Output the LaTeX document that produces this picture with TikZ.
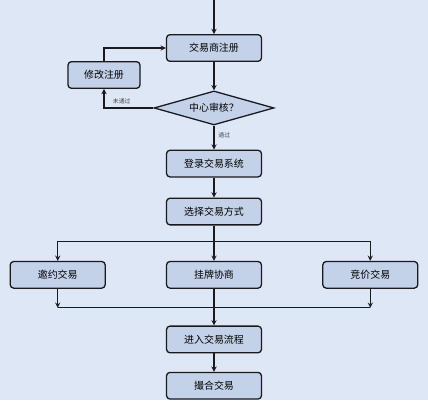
\documentclass[tikz,border=0pt]{standalone}
\usepackage{fontspec}
\newfontfamily\cjk{Noto Sans CJK SC}
\usetikzlibrary{arrows, shapes.geometric}
\usetikzlibrary{positioning, calc}

\definecolor{bgblue}{RGB}{222,231,246}
\definecolor{boxblue}{RGB}{196,210,233}
\definecolor{lineblack}{RGB}{25,25,30}

\tikzset{
	box/.style={rectangle, rounded corners=3pt, draw=lineblack, line width=1.1pt, fill=boxblue, minimum width=2.85cm, minimum height=0.8cm, font=\cjk\fontsize{8.5}{10}\selectfont},
	check/.style={diamond, draw=lineblack, line width=1.1pt, fill=boxblue, aspect=3.5, inner sep=0pt, minimum width=3.6cm, minimum height=1.02cm, font=\cjk\fontsize{8.5}{10}\selectfont},
	arr/.style={-stealth, line width=1pt, draw=lineblack},
	tag/.style={font=\cjk\fontsize{5}{6}\selectfont, text=black!70}
}

\begin{document}
\begin{tikzpicture}

		\fill[bgblue] (0,0) rectangle (12.84,-12);
		\useasboundingbox (0,0) rectangle (12.84,-12);

		\coordinate (top) at (6.42,0);
		\node[box] (reg) at (6.42,-1.44) {交易商注册};
		\node[box, minimum width=2.16cm] (modify) at ($(reg)+(-3.3,-0.81)$) {修改注册};
		\node[check, below=0.85cm of reg] (audit) {中心审核？};
		\node[box, below=0.72cm of audit] (login) {登录交易系统};
		\node[box, below=0.6cm of login] (choose) {选择交易方式};

		\node[box, below=1.06cm of choose] (listing) {挂牌协商};
		\node[box, left=1.8cm of listing] (invite) {邀约交易};
		\node[box, right=1.8cm of listing] (auction) {竞价交易};

		\node[box, below=1.1cm of listing] (enter) {进入交易流程};
		\node[box, below=0.55cm of enter] (match) {撮合交易};

		\coordinate (split) at ($(choose.south)+(0,-0.48)$);
		\coordinate (merge) at ($(listing.south)+(0,-0.57)$);
		\coordinate (mergeL) at (invite |- merge);
		\coordinate (mergeR) at (auction |- merge);

		\draw[arr] (top) -- (reg);
		\draw[arr] (reg) -- (audit);
		\draw[arr] (audit.west) -| node[tag, above, pos=0.32] {未通过} (modify.south);
		\draw[arr] (modify.north) |- (reg.west);
		\draw[arr] (audit) -- node[tag, right, pos=0.4] {通过} (login);
		\draw[arr] (login) -- (choose);

		\draw[arr] (choose) -- (listing);
		\draw[arr] (split) -| (invite);
		\draw[arr] (split) -| (auction);

		\draw[arr] (invite) -- (mergeL);
		\draw[arr] (auction) -- (mergeR);
		\draw[line width=1pt, draw=lineblack] (mergeL) -- (mergeR);
		\draw[arr] (listing) -- (enter);
		\draw[arr] (enter) -- (match);

	\end{tikzpicture}
\end{document}
